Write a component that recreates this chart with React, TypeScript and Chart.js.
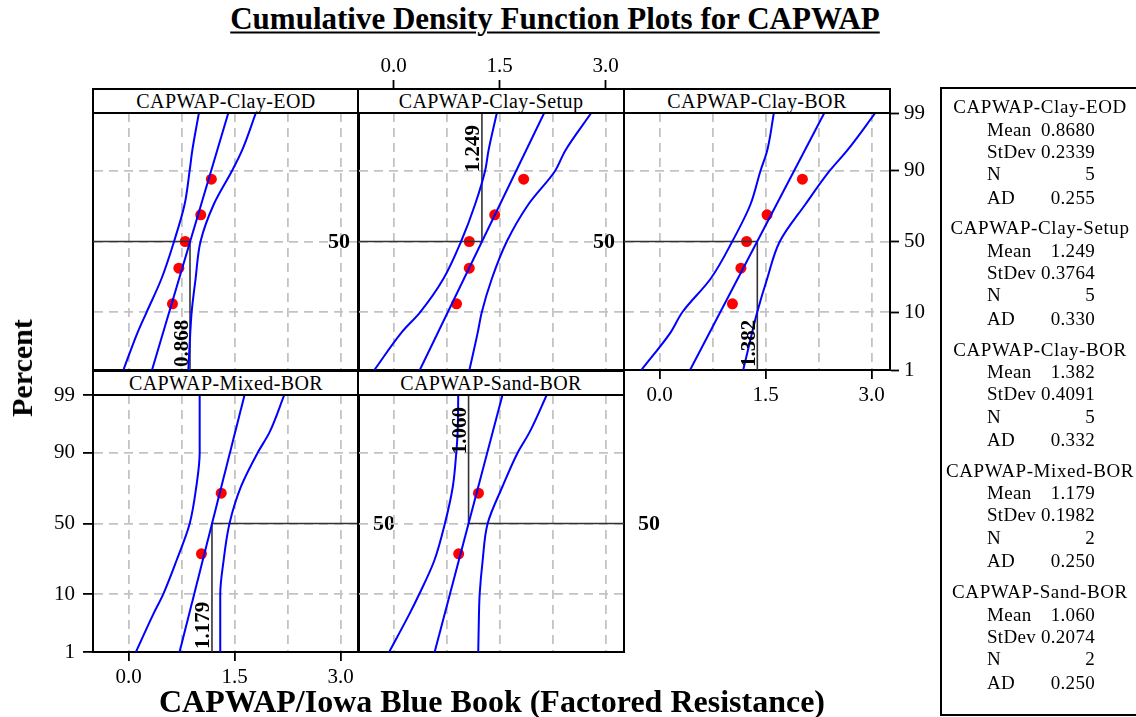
import React, { useEffect, useRef } from 'react';
import { Chart, registerables } from 'chart.js';

Chart.register(...registerables);

const SERIF = '"Liberation Serif", "Times New Roman", serif';
const BLUE = '#0000ff';
const RED = '#ff0000';
const GRID = '#c3c3c3';
const CLEAR = 'rgba(0,0,0,0)';

// axis setup
const X_MIN = -0.505;
const X_MAX = 3.26;
const X_GRID = [0, 0.75, 1.5, 2.25, 3.0];
const X_LABELED = [0, 1.5, 3.0];
const PCT_TICKS = [1, 10, 50, 90, 99];
const BAND_PCT = [1, 5, 10, 25, 50, 75, 90, 95, 99];
const FIT_PCT = [1, 99];

// panel names & statistics
const PANEL_NAMES = ['CAPWAP-Clay-EOD', 'CAPWAP-Clay-Setup', 'CAPWAP-Clay-BOR', 'CAPWAP-Mixed-BOR', 'CAPWAP-Sand-BOR'];
const MEANS = [0.868, 1.249, 1.382, 1.179, 1.06];
const MEAN_TEXT = ['0.8680', '1.249', '1.382', '1.179', '1.060'];
const STDEV_TEXT = ['0.2339', '0.3764', '0.4091', '0.1982', '0.2074'];
const N_TEXT = ['5', '5', '5', '2', '2'];
const AD_TEXT = ['0.255', '0.330', '0.332', '0.250', '0.250'];

// plotting positions (percent)
const PCT_N5 = [12.96, 31.48, 50, 68.52, 87.04];
const PCT_N2 = [29.17, 70.83];

// observed values
const EOD_X = [0.62, 0.71, 0.8, 1.02, 1.17];
const SETUP_X = [0.89, 1.07, 1.07, 1.43, 1.84];
const CBOR_X = [1.03, 1.15, 1.23, 1.52, 2.02];
const MIXED_X = [1.03, 1.31];
const SAND_X = [0.92, 1.2];

// fitted lines at 1% and 99%
const EOD_FIT = [0.33, 1.41];
const SETUP_FIT = [0.37, 2.13];
const CBOR_FIT = [0.43, 2.33];
const MIXED_FIT = [0.72, 1.64];
const SAND_FIT = [0.58, 1.54];

// confidence bands at BAND_PCT
const EOD_LO = [-0.075, 0.127, 0.253, 0.464, 0.642, 0.792, 0.863, 0.9, 0.994];
const EOD_HI = [0.844, 0.872, 0.891, 0.947, 1.017, 1.205, 1.463, 1.603, 1.8];
const SETUP_LO = [-0.274, 0.113, 0.373, 0.704, 0.954, 1.153, 1.294, 1.342, 1.46];
const SETUP_HI = [1.072, 1.19, 1.247, 1.389, 1.601, 1.908, 2.286, 2.428, 2.796];
const CBOR_LO = [-0.259, 0.155, 0.32, 0.721, 1.027, 1.286, 1.427, 1.521, 1.616];
const CBOR_HI = [1.182, 1.309, 1.38, 1.521, 1.7, 2.063, 2.407, 2.652, 3.052];
const MIXED_LO = [0.103, 0.347, 0.488, 0.676, 0.864, 0.958, 1.005, 1.005, 1.005];
const MIXED_HI = [1.296, 1.296, 1.296, 1.343, 1.427, 1.592, 1.826, 1.991, 2.202];
const SAND_LO = [-0.064, 0.22, 0.361, 0.574, 0.725, 0.838, 0.886, 0.905, 0.914];
const SAND_HI = [1.197, 1.207, 1.217, 1.259, 1.33, 1.542, 1.755, 1.92, 2.166];

// layout
const COL_LEFT = [93, 358, 624];
const ROW_TOP = [113, 395];
const PLOT_W = 266;
const PLOT_H = 257;
const PAD_X = 80;
const PAD_Y = 60;

// inverse standard normal (probability-paper transform of the y scale)
function zOf(pct: number): number {
  const p = pct / 100;
  const a = [-3.969683028665376e1, 2.209460984245205e2, -2.759285104469687e2, 1.38357751867269e2, -3.066479806614716e1, 2.506628277459239];
  const b = [-5.447609879822406e1, 1.615858368580409e2, -1.556989798598866e2, 6.680131188771972e1, -1.328068155288572e1];
  const c = [-7.784894002430293e-3, -3.223964580411365e-1, -2.400758277161838, -2.549732539343734, 4.374664141464968, 2.938163982698783];
  const d = [7.784695709041462e-3, 3.224671290700398e-1, 2.445134137142996, 3.754408661907416];
  const pl = 0.02425;
  if (p < pl) {
    const q = Math.sqrt(-2 * Math.log(p));
    return (((((c[0] * q + c[1]) * q + c[2]) * q + c[3]) * q + c[4]) * q + c[5]) / ((((d[0] * q + d[1]) * q + d[2]) * q + d[3]) * q + 1);
  }
  if (p > 1 - pl) {
    const q = Math.sqrt(-2 * Math.log(1 - p));
    return -(((((c[0] * q + c[1]) * q + c[2]) * q + c[3]) * q + c[4]) * q + c[5]) / ((((d[0] * q + d[1]) * q + d[2]) * q + d[3]) * q + 1);
  }
  const q = p - 0.5;
  const r = q * q;
  return ((((((a[0] * r + a[1]) * r + a[2]) * r + a[3]) * r + a[4]) * r + a[5]) * q) / (((((b[0] * r + b[1]) * r + b[2]) * r + b[3]) * r + b[4]) * r + 1);
}

type PanelCfg = {
  idx: number;
  col: number;
  row: number;
  xs: number[];
  pct: number[];
  fit: number[];
  lo: number[];
  hi: number[];
  hDir: 'left' | 'right';
  vDir: 'down' | 'up';
  fifty: 'in' | 'out' | 'none';
  bottom: boolean;
  top: boolean;
  left: boolean;
  right: boolean;
};

const PANELS: PanelCfg[] = [
  { idx: 0, col: 0, row: 0, xs: EOD_X, pct: PCT_N5, fit: EOD_FIT, lo: EOD_LO, hi: EOD_HI, hDir: 'left', vDir: 'down', fifty: 'in', bottom: false, top: false, left: false, right: false },
  { idx: 1, col: 1, row: 0, xs: SETUP_X, pct: PCT_N5, fit: SETUP_FIT, lo: SETUP_LO, hi: SETUP_HI, hDir: 'left', vDir: 'up', fifty: 'in', bottom: false, top: true, left: false, right: false },
  { idx: 2, col: 2, row: 0, xs: CBOR_X, pct: PCT_N5, fit: CBOR_FIT, lo: CBOR_LO, hi: CBOR_HI, hDir: 'left', vDir: 'down', fifty: 'none', bottom: true, top: false, left: false, right: true },
  { idx: 3, col: 0, row: 1, xs: MIXED_X, pct: PCT_N2, fit: MIXED_FIT, lo: MIXED_LO, hi: MIXED_HI, hDir: 'right', vDir: 'down', fifty: 'out', bottom: true, top: false, left: true, right: false },
  { idx: 4, col: 1, row: 1, xs: SAND_X, pct: PCT_N2, fit: SAND_FIT, lo: SAND_LO, hi: SAND_HI, hDir: 'right', vDir: 'up', fifty: 'out', bottom: false, top: false, left: false, right: false },
];

function Panel({ p }: { p: PanelCfg }) {
  const ref = useRef<HTMLCanvasElement | null>(null);
  useEffect(() => {
    if (!ref.current) return;
    const zMin = zOf(1);
    const zMax = zOf(99);
    const mean = MEANS[p.idx];
    const toPts = (xs: number[], ps: number[]) => xs.map((x, i) => ({ x, y: zOf(ps[i]) }));
    const vEnd = p.vDir === 'down' ? zMin : zMax;
    const refData =
      p.hDir === 'left'
        ? [{ x: X_MIN, y: zOf(50) }, { x: mean, y: zOf(50) }, { x: mean, y: vEnd }]
        : [{ x: mean, y: vEnd }, { x: mean, y: zOf(50) }, { x: X_MAX, y: zOf(50) }];
    const xTicks = (s: any) => {
      s.ticks = X_GRID.map((v) => ({ value: v }));
    };
    const yTicks = (s: any) => {
      s.ticks = PCT_TICKS.map((q) => ({ value: zOf(q) }));
    };
    const tickFont = { family: SERIF, size: 21 };
    const labelPlugin = {
      id: 'refLabels',
      afterDatasetsDraw(chart: any) {
        const { ctx, chartArea, scales } = chart;
        const mx = scales.x.getPixelForValue(mean);
        const y50 = scales.y.getPixelForValue(zOf(50));
        ctx.save();
        ctx.fillStyle = '#000';
        if (p.fifty !== 'none') {
          ctx.font = `bold 22px ${SERIF}`;
          ctx.textAlign = 'center';
          ctx.textBaseline = 'middle';
          const lx = p.fifty === 'in' ? chartArea.right - 20 : chartArea.right + 25;
          ctx.fillText('50', lx, y50 + 1);
        }
        ctx.font = `bold 21px ${SERIF}`;
        ctx.translate(mx - 2.5, p.vDir === 'down' ? chartArea.bottom - 3 : chartArea.top + 12);
        ctx.rotate(-Math.PI / 2);
        ctx.textAlign = p.vDir === 'down' ? 'left' : 'right';
        ctx.textBaseline = 'alphabetic';
        ctx.fillText(mean.toFixed(3), 0, 0);
        ctx.restore();
      },
    };
    const chart = new Chart(ref.current, {
      type: 'line',
      data: {
        datasets: [
          { data: toPts(p.lo, BAND_PCT), borderColor: BLUE, borderWidth: 2, pointRadius: 0, cubicInterpolationMode: 'monotone', xAxisID: 'x', yAxisID: 'y' },
          { data: toPts(p.hi, BAND_PCT), borderColor: BLUE, borderWidth: 2, pointRadius: 0, cubicInterpolationMode: 'monotone', xAxisID: 'x', yAxisID: 'y' },
          { data: toPts(p.fit, FIT_PCT), borderColor: BLUE, borderWidth: 2, pointRadius: 0, tension: 0, xAxisID: 'x', yAxisID: 'y' },
          { data: refData, borderColor: '#333', borderWidth: 1.6, pointRadius: 0, tension: 0, xAxisID: 'x', yAxisID: 'y' },
          { data: toPts(p.xs, p.pct), showLine: false, pointRadius: 5.5, pointBackgroundColor: RED, pointBorderColor: RED, pointBorderWidth: 0, xAxisID: 'x', yAxisID: 'y' },
        ],
      } as any,
      options: {
        indexAxis: 'y',
        animation: false,
        responsive: false,
        events: [],
        layout: { padding: 0 },
        plugins: { legend: { display: false }, tooltip: { enabled: false } },
        scales: {
          x: {
            type: 'linear', axis: 'x', position: 'bottom', min: X_MIN, max: X_MAX,
            afterBuildTicks: xTicks,
            afterFit: (s: any) => { s.height = PAD_Y; },
            ticks: { autoSkip: false, maxRotation: 0, padding: 4, color: '#000', font: tickFont, callback: (v: any) => (p.bottom && X_LABELED.includes(v) ? Number(v).toFixed(1) : '') },
            grid: { color: GRID, lineWidth: 1.8, tickLength: 9, tickWidth: 1.8, tickColor: (c: any) => (p.bottom && c.tick && X_LABELED.includes(c.tick.value) ? '#000' : CLEAR) },
            border: { display: true, color: '#000', width: 2, dash: [9, 6] },
          },
          x2: {
            type: 'linear', axis: 'x', position: 'top', min: X_MIN, max: X_MAX,
            afterBuildTicks: xTicks,
            afterFit: (s: any) => { s.height = PAD_Y; },
            ticks: { autoSkip: false, maxRotation: 0, padding: 1, color: '#000', font: tickFont, callback: (v: any) => (p.top && X_LABELED.includes(v) ? Number(v).toFixed(1) : '') },
            grid: { drawOnChartArea: false, tickLength: 33, tickWidth: 1.8, tickColor: (c: any) => (p.top && c.tick && X_LABELED.includes(c.tick.value) ? '#000' : CLEAR) },
            border: { display: true, color: '#000', width: 2 },
          },
          y: {
            type: 'linear', axis: 'y', position: 'left', min: zMin, max: zMax,
            afterBuildTicks: yTicks,
            afterFit: (s: any) => { s.width = PAD_X; },
            ticks: { autoSkip: false, padding: 8, color: '#000', font: tickFont, callback: (_v: any, i: number) => (p.left ? String(PCT_TICKS[i]) : '') },
            grid: { color: (c: any) => (c.index === 0 || c.index === PCT_TICKS.length - 1 ? CLEAR : GRID), lineWidth: 1.8, tickLength: 10, tickWidth: 1.8, tickColor: p.left ? '#000' : CLEAR },
            border: { display: true, color: '#000', width: 2, dash: [9, 6] },
          },
          y2: {
            type: 'linear', axis: 'y', position: 'right', min: zMin, max: zMax,
            afterBuildTicks: yTicks,
            afterFit: (s: any) => { s.width = PAD_X; },
            ticks: { autoSkip: false, padding: 5, color: '#000', font: tickFont, callback: (_v: any, i: number) => (p.right ? String(PCT_TICKS[i]) : '') },
            grid: { drawOnChartArea: false, tickLength: 9, tickWidth: 1.8, tickColor: p.right ? '#000' : CLEAR },
            border: { display: true, color: '#000', width: 2 },
          },
        },
      } as any,
      plugins: [labelPlugin],
    });
    return () => chart.destroy();
  }, [p]);
  const w = PLOT_W + 2 * PAD_X;
  const h = PLOT_H + 2 * PAD_Y;
  return (
    <canvas
      ref={ref}
      width={w}
      height={h}
      style={{ position: 'absolute', left: COL_LEFT[p.col] - PAD_X, top: ROW_TOP[p.row] - PAD_Y, width: w, height: h }}
    />
  );
}

function T({ x, y, children, style, align = 'center' }: any) {
  const tx = align === 'center' ? '-50%' : align === 'right' ? '-100%' : '0';
  return (
    <div
      style={{
        position: 'absolute', left: x, top: y, transform: `translate(${tx}, -50%)`,
        whiteSpace: 'nowrap', lineHeight: 1, fontFamily: SERIF, color: '#000', ...style,
      }}
    >
      {children}
    </div>
  );
}

const LEG_ROWS = ['Mean', 'StDev', 'N', 'AD'];
const LEG_OFFSETS = [22.5, 44.5, 67, 90.5];

export default function App() {
  return (
    <div style={{ position: 'fixed', left: 0, top: 0, width: 1136, height: 717, background: '#fff', overflow: 'hidden' }}>
      {PANELS.map((p) => (
        <Panel key={p.idx} p={p} />
      ))}
      {PANELS.map((p) => (
        <div
          key={'h' + p.idx}
          style={{
            position: 'absolute', left: COL_LEFT[p.col] - 1, top: ROW_TOP[p.row] - 25, width: PLOT_W + 2, height: 26,
            border: '2px solid #000', boxSizing: 'border-box', background: '#fff',
            display: 'flex', alignItems: 'center', justifyContent: 'center',
            fontFamily: SERIF, fontSize: 20, letterSpacing: 0.4, lineHeight: 1,
          }}
        >
          {PANEL_NAMES[p.idx]}
        </div>
      ))}
      <T x={555} y={18} style={{ fontSize: 31, fontWeight: 'bold', textDecoration: 'underline', textDecorationThickness: 2, textUnderlineOffset: 3 }}>
        Cumulative Density Function Plots for CAPWAP
      </T>
      <T x={492} y={701} style={{ fontSize: 32, fontWeight: 'bold' }}>
        CAPWAP/Iowa Blue Book (Factored Resistance)
      </T>
      <div
        style={{
          position: 'absolute', left: 22, top: 368, transform: 'translate(-50%, -50%) rotate(-90deg)',
          fontFamily: SERIF, fontSize: 30, fontWeight: 'bold', whiteSpace: 'nowrap', lineHeight: 1,
        }}
      >
        Percent
      </div>
      <div style={{ position: 'absolute', left: 940, top: 87, width: 240, height: 629, border: '2px solid #000', boxSizing: 'border-box' }} />
      {PANEL_NAMES.map((name, g) => {
        const y0 = 106 + g * 121.3;
        const vals = [MEAN_TEXT[g], STDEV_TEXT[g], N_TEXT[g], AD_TEXT[g]];
        return (
          <React.Fragment key={'l' + g}>
            <T x={1040} y={y0} style={{ fontSize: 19, letterSpacing: 0.6 }}>
              {name}
            </T>
            {LEG_ROWS.map((r, k) => (
              <React.Fragment key={r}>
                <T x={987} y={y0 + LEG_OFFSETS[k]} align="left" style={{ fontSize: 19, letterSpacing: 0.3 }}>
                  {r}
                </T>
                <T x={1095} y={y0 + LEG_OFFSETS[k]} align="right" style={{ fontSize: 19, letterSpacing: 0.3 }}>
                  {vals[k]}
                </T>
              </React.Fragment>
            ))}
          </React.Fragment>
        );
      })}
    </div>
  );
}
